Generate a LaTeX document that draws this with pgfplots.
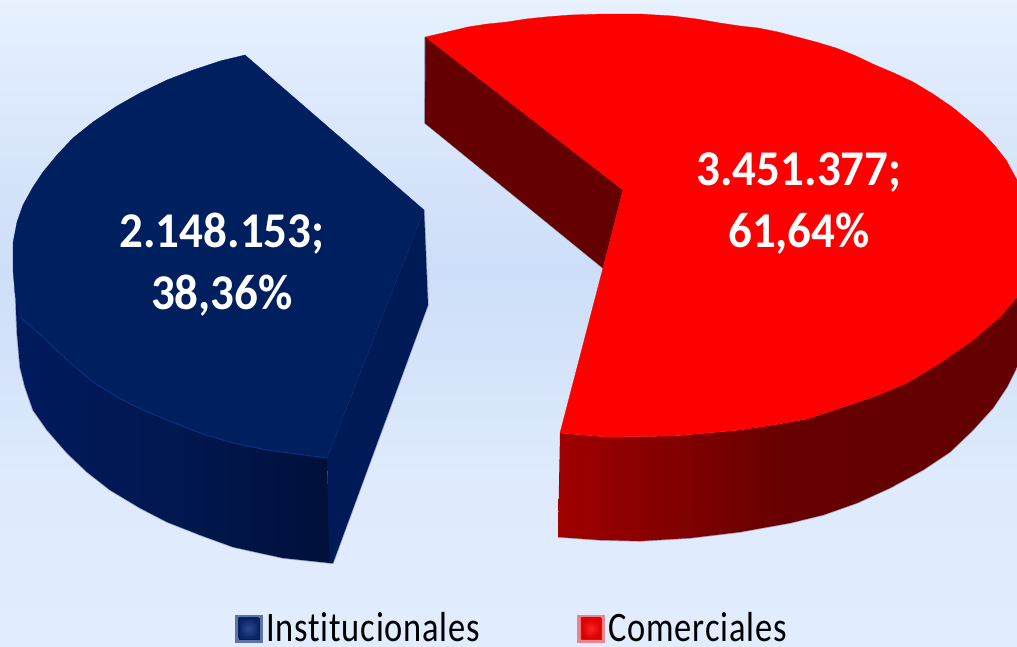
\documentclass[border=0pt]{standalone}
\usepackage{fontspec}
\setmainfont{Carlito}
\newfontfamily\legfont[FakeStretch=0.82,LetterSpace=1.9,Ligatures=NoCommon]{Carlito}
\newfontfamily\lblfont[FakeStretch=0.94]{Carlito}
\usepackage{pgfplots}
\pgfplotsset{compat=1.18}
\definecolor{bluetop}{HTML}{001F5F}
\definecolor{bluecut}{HTML}{001A58}
\definecolor{redcut}{HTML}{640000}
\definecolor{bga}{HTML}{E1EDFE}
\definecolor{bgb}{HTML}{DFEBFD}
\definecolor{bgc}{HTML}{CDDEF8}
\definecolor{bgd}{HTML}{DDE9FD}
\definecolor{bge}{HTML}{E7F1FF}
\definecolor{rsa}{HTML}{A00000}
\definecolor{rsb}{HTML}{820000}
\definecolor{rsc}{HTML}{660000}
\definecolor{bsa}{HTML}{001A5C}
\definecolor{bsb}{HTML}{001750}
\definecolor{bsc}{HTML}{00103A}
\definecolor{edgeblue}{HTML}{A0ABC8}
\definecolor{rimblue}{HTML}{0A2F7F}
\definecolor{legring}{HTML}{60749F}
\definecolor{legin}{HTML}{0A2566}
\definecolor{legmid}{HTML}{2A4A90}
\definecolor{legringr}{HTML}{E8858E}
\definecolor{leginr}{HTML}{D80000}
\definecolor{legmidr}{HTML}{FF2020}
\pgfdeclareverticalshading{bgshade}{100bp}{color(0bp)=(bga); color(25bp)=(bga); color(37.5bp)=(bgb); color(54bp)=(bgc); color(67.5bp)=(bgd); color(75bp)=(bge); color(100bp)=(bge)}
\pgfdeclarehorizontalshading{redside}{100bp}{color(0bp)=(rsa); color(25bp)=(rsa); color(37.5bp)=(rsb); color(50bp)=(rsc); color(75bp)=(redcut); color(100bp)=(redcut)}
\pgfdeclarehorizontalshading{blueside}{100bp}{color(0bp)=(bsa); color(25bp)=(bsa); color(50bp)=(bsb); color(75bp)=(bsc); color(100bp)=(bsc)}
\begin{document}
\begin{tikzpicture}
\begin{axis}[
  scale only axis, width=1017pt, height=646pt,
  xmin=0, xmax=1017, ymin=0, ymax=646, y dir=reverse,
  axis line style={draw=none}, ticks=none, no markers,
  axis background/.style={shading=bgshade},
  legend columns=2,
  legend cell align=left,
  legend style={at={(axis cs:235,642)}, anchor=south west, draw=none, fill=none,
    inner sep=0pt, outer sep=0pt, font=\legfont\fontsize{42}{42}\selectfont,
    nodes={inner sep=0pt, outer sep=0pt, text depth=0pt},
    /tikz/every even column/.append style={column sep=97pt},
    /tikz/every odd column/.append style={column sep=4pt}},
]
% soft edge below the blue slice
\addplot[forget plot, color=edgeblue, line width=1.6pt] coordinates {
 (14,262)(17,333)(20,367)(25,387)(33,410)(47,430)(67,453)(87,472)(110,490)(140,508)(167,522)(200,535)(233,547)(260,553)(283,558)(330,563)(333,563)(428,305)(424,210)};
% blue outer side
\addplot[forget plot, draw=none, shading=blueside] coordinates {
 (14,262)(17,333)(20,367)(25,387)(33,410)(47,430)(67,453)(87,472)(110,490)(140,508)(167,522)(200,535)(233,547)(260,553)(283,558)(330,563)
 (327,458)(267,450)(233,443)(200,433)(167,420)(143,410)(117,397)(93,382)(67,360)(43,337)(20,317)} --cycle;
% blue cut face
\addplot[forget plot, draw=none, fill=bluecut] coordinates {
 (424,210)(428,305)(333,563)(329,563)(327,458)} --cycle;
% blue top
\addplot[fill=bluetop, draw=bluetop, line width=0.3pt,
  legend image code/.code={
    \fill[color=legring] (0pt,-15pt) rectangle (27pt,12pt);
    \shade[inner color=legmid, outer color=legin] (3.5pt,-12pt) rectangle (23.5pt,9pt);
  }] coordinates {
 (245,55)(424,210)(327,458)(267,450)(233,443)(200,433)(167,420)(143,410)(117,397)(93,382)(67,360)(43,337)(20,317)
 (15,293)(13,270)(13,243)(17,222)(23,205)(33,187)(43,172)(57,155)(73,138)(93,122)(117,106)(140,93)(167,80)(193,70)(220,61)} --cycle;
\addlegendentry{Institucionales}
% blue rim highlight
\addplot[forget plot, color=rimblue, line width=1pt] coordinates {
 (20,317)(43,337)(67,360)(93,382)(117,397)(143,410)(167,420)(200,433)(233,443)(267,450)(327,458)};
% soft edge below the red slice
\addplot[forget plot, color=edgeblue, line width=1.6pt] coordinates {
 (425,37)(425,123)(603,268)};
\addplot[forget plot, color=edgeblue, line width=1.6pt] coordinates {
 (558,537)(600,540)(640,541)(690,538)(740,532)(790,523)(823,515)(857,503)(890,488)(923,470)(950,452)(973,430)(993,408)(1007,387)(1017,367)};
% red cut face
\addplot[forget plot, fill=redcut, draw=redcut, line width=0.3pt] coordinates {
 (425.5,37)(623,190)(603,268)(425,123)} --cycle;
% red outer side
\addplot[forget plot, draw=none, shading=redside] coordinates {
 (560,433)(607,437)(673,436)(740,430)(773,425)(807,419)(840,408)(873,397)(907,383)(940,363)(973,340)(1000,317)(1017,297)(1017,367)
 (1007,387)(993,408)(973,430)(950,452)(923,470)(890,488)(857,503)(823,515)(790,523)(740,532)(690,538)(640,541)(600,540)(558,537)} --cycle;
% red top
\addplot[fill=red, draw=red, line width=0.3pt,
  legend image code/.code={
    \fill[color=legringr] (0pt,-15pt) rectangle (27pt,12pt);
    \shade[inner color=legmidr, outer color=leginr] (3.5pt,-12pt) rectangle (23.5pt,9pt);
  }] coordinates {
 (425.5,37)(447,32)(468,27)(487,24)(507,22)(526,19)(545,17)(570,15)(604,14)(640,14)(673,16)(697,19)(720,23)(740,26)(758,28)(778,32)(797,37)(816,42)(836,48)(856,56)(875,65)(894,73)(913,82)(933,94)
 (952,107)(968,120)(983,133)(995,146)(1006,160)(1017,180)(1017,297)(1000,317)(973,340)(940,363)(907,383)(873,397)(840,408)(807,419)(773,425)(740,430)(673,436)(607,437)
 (560,433)(603,268)(623,190)} --cycle;
\addlegendentry{Comerciales}
\node[align=center, text=white, font=\lblfont\bfseries\fontsize{50}{62}\selectfont] at (axis cs:222,265) {2.148.153;\\38,36\%};
\node[align=center, text=white, font=\lblfont\bfseries\fontsize{50}{62}\selectfont] at (axis cs:799,203) {3.451.377;\\61,64\%};
\end{axis}
\end{tikzpicture}
\end{document}
